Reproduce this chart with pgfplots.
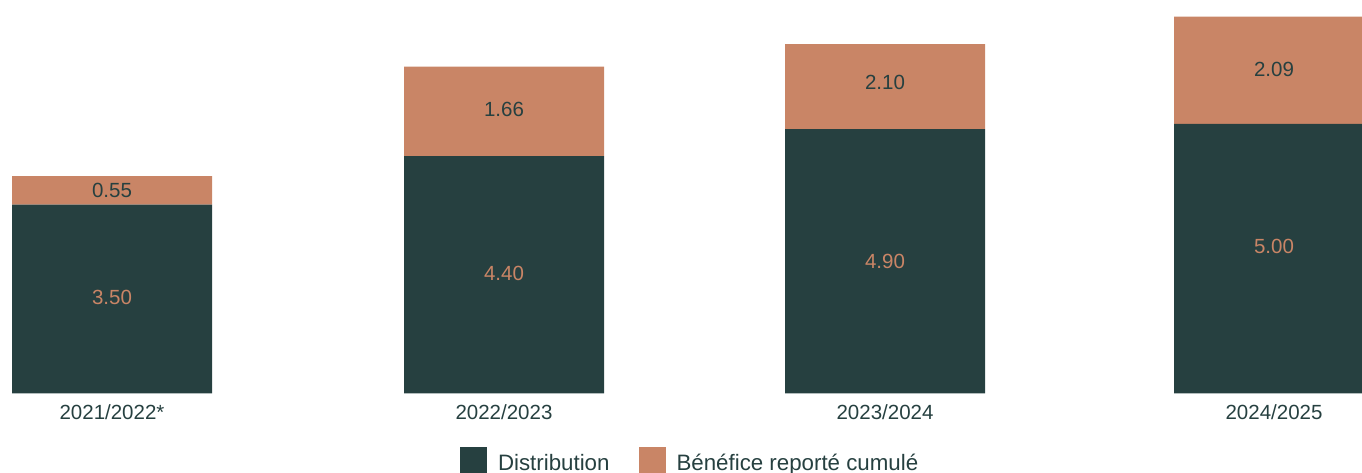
\documentclass[border=0pt]{standalone}
\usepackage{pgfplots}
\pgfplotsset{compat=1.18}
\usepackage{pgfplotstable}
\usepackage{fontspec}
\setmainfont{Liberation Sans}
\definecolor{darkg}{HTML}{264040}
\definecolor{terra}{HTML}{C98566}

% bar heights as drawn (px scale 53.9 px per unit)
\pgfplotstableread{
x     dist  ben
112   3.50  0.53
504   4.40  1.66
885   4.90  1.58
1274  5.00  1.99
}\bars

% value labels on the dark part
\pgfplotstableread{
x     y     lab
112   1.77  3.50
504   2.23  4.40
885   2.45  4.90
1274  2.73  5.00
}\darklabels

% value labels on the orange part
\pgfplotstableread{
x     y     lab
112   3.77  0.55
504   5.26  1.66
885   5.76  2.10
1274  6.00  2.09
}\terralabels

\pgfplotsset{
  common/.style={
    at={(0,0)}, anchor=south west,
    scale only axis, width=1362bp, height=393.3bp,
    xmin=0, xmax=1362, ymin=0, ymax=7.297,
  }
}

\begin{document}
\begin{tikzpicture}
\useasboundingbox (0,-79.7bp) rectangle (1362bp,393.3bp);
\begin{axis}[
  common,
  ybar stacked, bar width=200,
  axis line style={draw=none},
  tick style={draw=none},
  ytick=\empty,
  xtick={112,504,885,1274},
  xticklabels={2021/2022*,2022/2023,2023/2024,2024/2025},
  xticklabel style={font=\fontsize{20.5bp}{24bp}\selectfont, text=darkg, anchor=base, yshift=-26.5bp, inner sep=0pt},
  legend columns=2,
  legend image code/.code={\fill[#1] (0bp,-14bp) rectangle (27bp,16bp);},
  legend style={at={(460/1362,-0.1365)}, anchor=north west, draw=none, fill=none,
    font=\fontsize{22.3bp}{26bp}\selectfont, text=darkg,
    inner sep=0pt, outer sep=0pt,
    nodes={inner sep=0pt, outer sep=0pt},
    /tikz/every odd column/.append style={column sep=11bp},
    /tikz/every even column/.append style={column sep=29bp}},
]
\addplot[fill=darkg, draw=none] table[x=x, y=dist] {\bars};
\addlegendentry{Distribution}
\addplot[fill=terra, draw=none] table[x=x, y=ben] {\bars};
\addlegendentry{Bénéfice reporté cumulé}
\end{axis}
\begin{axis}[
  common, hide axis,
  every node near coord/.append style={anchor=center, inner sep=0pt, font=\fontsize{20.5bp}{24bp}\selectfont},
]
\addplot[draw=none, mark=none, nodes near coords, point meta=explicit symbolic,
  every node near coord/.append style={text=terra}] table[x=x, y=y, meta=lab] {\darklabels};
\addplot[draw=none, mark=none, nodes near coords, point meta=explicit symbolic,
  every node near coord/.append style={text=darkg}] table[x=x, y=y, meta=lab] {\terralabels};
\end{axis}
\end{tikzpicture}
\end{document}
